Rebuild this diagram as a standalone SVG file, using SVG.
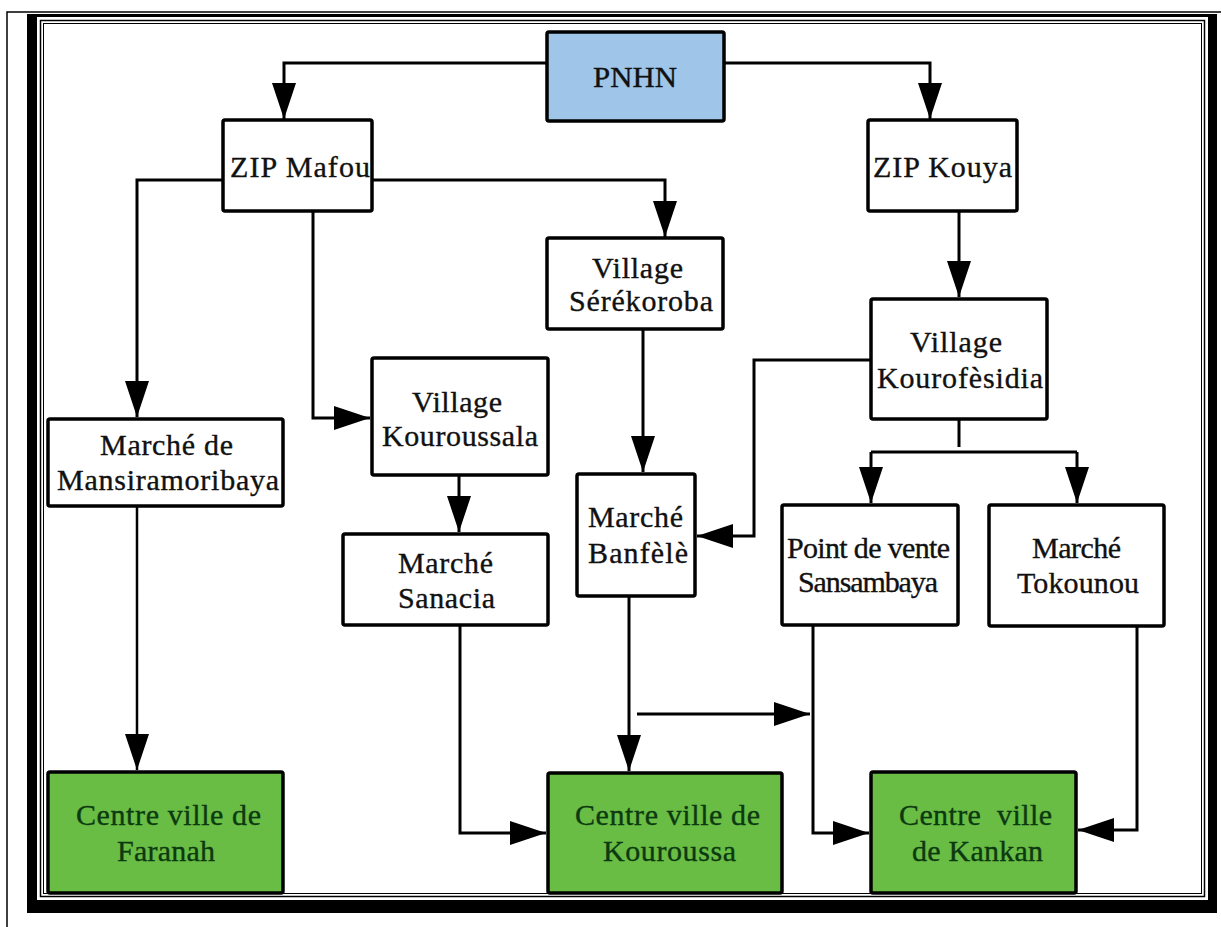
<svg xmlns="http://www.w3.org/2000/svg" width="1221" height="927" viewBox="0 0 1221 927">
<style>
.frame{fill:none;stroke:#000}
.box rect{stroke:#000;stroke-width:3.5}
.w rect{fill:#fff}
.b rect{fill:#9fc5e8}
.g rect{fill:#69bc44}
.box text{font-family:"Liberation Serif","Times New Roman",serif;font-size:30px;fill:#111;stroke:#111;stroke-width:0.35}
.g text{fill:#0c3a10;stroke:#0c3a10}
#connectors path{fill:none;stroke:#000;stroke-width:3}
#connectors path.thin{stroke-width:2.5}
</style>
<defs>
<marker id="ah" markerUnits="userSpaceOnUse" markerWidth="36" markerHeight="24" refX="36" refY="12" orient="auto">
<path d="M0,0 L36,12 L0,24 Z" fill="#000"/>
</marker>
</defs>
<rect width="1221" height="927" fill="#fff"/>
<g id="frame">
<path d="M7,927 V12 H1221" class="frame" stroke-width="1.5"/>
<path d="M27,14 H1217 V913 H27 Z M37,17 V900 H1208 V17 Z" fill="#000" fill-rule="evenodd"/>
<rect x="40.5" y="20.5" width="1164" height="876" class="frame" stroke-width="1.5"/>
<rect x="43.5" y="23.5" width="1158" height="870" class="frame" stroke="#777" stroke-width="1"/>
</g>
<g id="connectors">
<path d="M547,63 H284 V119" marker-end="url(#ah)"/>
<path d="M724,63 H930 V119" marker-end="url(#ah)"/>
<path d="M223,180 H137 V417" marker-end="url(#ah)"/>
<path d="M372,180 H665 V237" marker-end="url(#ah)"/>
<path d="M313,211 V418 H370" marker-end="url(#ah)"/>
<path d="M959,211 V297" marker-end="url(#ah)"/>
<path d="M643,329 V472" marker-end="url(#ah)"/>
<path d="M871,360 H754 V536 H697" marker-end="url(#ah)"/>
<path d="M959,419 V447"/>
<path d="M871,452 H1077"/>
<path d="M871,452 V503" marker-end="url(#ah)"/>
<path d="M1077,452 V503" marker-end="url(#ah)"/>
<path d="M459,475 V532" marker-end="url(#ah)"/>
<path class="thin" d="M137,506 V770" marker-end="url(#ah)"/>
<path d="M460,625 V833 H546" marker-end="url(#ah)"/>
<path d="M629,596 V771" marker-end="url(#ah)"/>
<path d="M637,714 H810" marker-end="url(#ah)"/>
<path d="M813,625 V833 H869" marker-end="url(#ah)"/>
<path d="M1137,626 V830 H1078" marker-end="url(#ah)"/>
</g>
<g id="n-pnhn" class="box b"><rect x="547" y="32" width="177" height="89" rx="2"/><text x="593" y="87" textLength="84" lengthAdjust="spacingAndGlyphs">PNHN</text></g>
<g id="n-zip-mafou" class="box w"><rect x="223" y="120" width="149" height="91" rx="2"/><text x="230" y="177" textLength="140">ZIP Mafou</text></g>
<g id="n-zip-kouya" class="box w"><rect x="868" y="120" width="149" height="91" rx="2"/><text x="873" y="177" textLength="139">ZIP Kouya</text></g>
<g id="n-serekoroba" class="box w"><rect x="547" y="238" width="176" height="91" rx="2"/><text x="592" y="278" textLength="91">Village</text><text x="569" y="311" textLength="144">Sérékoroba</text></g>
<g id="n-kourofesidia" class="box w"><rect x="871" y="299" width="176" height="120" rx="2"/><text x="910" y="352" textLength="92">Village</text><text x="877" y="388" textLength="166">Kourofèsidia</text></g>
<g id="n-kouroussala" class="box w"><rect x="372" y="358" width="176" height="117" rx="2"/><text x="412" y="412" textLength="90">Village</text><text x="382" y="446" textLength="156">Kouroussala</text></g>
<g id="n-mansiramoribaya" class="box w"><rect x="48" y="419" width="235" height="87" rx="2"/><text x="100" y="455" textLength="133">Marché de</text><text x="57" y="490" textLength="222">Mansiramoribaya</text></g>
<g id="n-banfele" class="box w"><rect x="577" y="474" width="118" height="122" rx="2"/><text x="588" y="527" textLength="95">Marché</text><text x="588" y="563" textLength="100">Banfèlè</text></g>
<g id="n-sanacia" class="box w"><rect x="343" y="534" width="205" height="91" rx="2"/><text x="398" y="573" textLength="95">Marché</text><text x="398" y="608" textLength="97">Sanacia</text></g>
<g id="n-sansambaya" class="box w"><rect x="782" y="505" width="176" height="120" rx="2"/><text x="787" y="558" textLength="163">Point de vente</text><text x="798" y="592" textLength="140">Sansambaya</text></g>
<g id="n-tokounou" class="box w"><rect x="989" y="505" width="175" height="121" rx="2"/><text x="1032" y="558" textLength="89">Marché</text><text x="1017" y="593" textLength="122">Tokounou</text></g>
<g id="n-faranah" class="box g"><rect x="48" y="772" width="235" height="121" rx="2"/><text x="76" y="825" textLength="185">Centre ville de</text><text x="117" y="861" textLength="98">Faranah</text></g>
<g id="n-kouroussa" class="box g"><rect x="548" y="773" width="234" height="120" rx="2"/><text x="575" y="825" textLength="185">Centre ville de</text><text x="603" y="861" textLength="133">Kouroussa</text></g>
<g id="n-kankan" class="box g"><rect x="871" y="772" width="205" height="121" rx="2"/><text x="899" y="825" textLength="153" xml:space="preserve">Centre  ville</text><text x="912" y="861" textLength="131">de Kankan</text></g>
</svg>
